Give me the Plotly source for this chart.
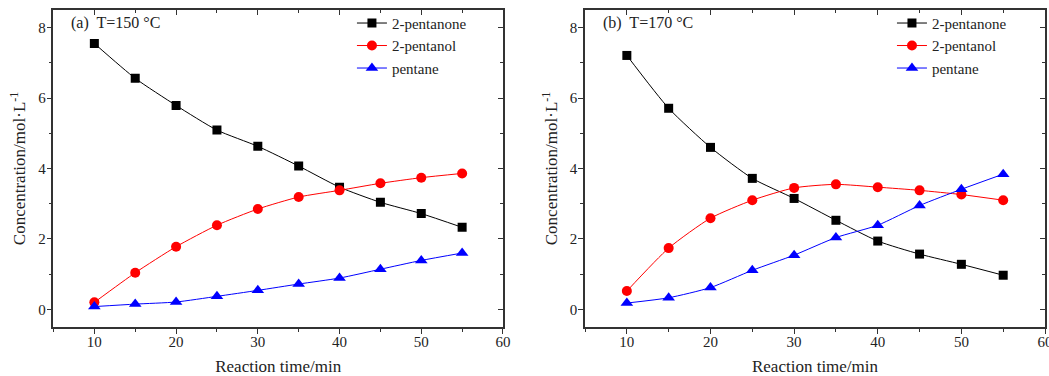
import plotly.graph_objects as go

time = [10, 15, 20, 25, 30, 35, 40, 45, 50, 55]
pentanone_150 = [7.55, 6.56, 5.79, 5.09, 4.63, 4.07, 3.47, 3.04, 2.72, 2.33]
pentanol_150 = [0.20, 1.04, 1.78, 2.39, 2.85, 3.19, 3.38, 3.58, 3.74, 3.86]
pentane_150 = [0.08, 0.15, 0.21, 0.37, 0.54, 0.72, 0.89, 1.14, 1.39, 1.60]
pentanone_170 = [7.21, 5.71, 4.60, 3.72, 3.15, 2.53, 1.94, 1.57, 1.28, 0.97]
pentanol_170 = [0.52, 1.74, 2.59, 3.10, 3.45, 3.55, 3.47, 3.38, 3.26, 3.10]
pentane_170 = [0.18, 0.33, 0.62, 1.11, 1.54, 2.04, 2.39, 2.95, 3.41, 3.84]
series_names = ["2-pentanone", "2-pentanol", "pentane"]
panel_labels = ["(a)  T=150 °C", "(b)  T=170 °C"]

colors = ["black", "red", "blue"]
symbols = ["square", "circle", "triangle-up"]
sizes = [9, 10, 11]
FONT = "Liberation Serif, Times New Roman, serif"
AX = "#333333"
TXT = "#222222"

fig = go.Figure()
panels = [
    ([pentanone_150, pentanol_150, pentane_150], "x", "y", "legend"),
    ([pentanone_170, pentanol_170, pentane_170], "x2", "y2", "legend2"),
]
for data, xa, ya, lg in panels:
    for name, vals, c, s, sz in zip(series_names, data, colors, symbols, sizes):
        fig.add_trace(go.Scatter(
            x=time, y=vals, name=name, mode="lines+markers",
            line=dict(color=c, width=1, shape="spline", smoothing=0.6),
            marker=dict(color=c, symbol=s, size=sz),
            xaxis=xa, yaxis=ya, legend=lg,
        ))

# dummy traces for mirrored inner-tick axes
for xa, ya in [("x3", "y3"), ("x4", "y4")]:
    fig.add_trace(go.Scatter(x=[None], y=[None], xaxis=xa, yaxis=ya,
                             showlegend=False, hoverinfo="skip"))

ydom = [0.1303, 0.9734]
xdoms = [[0.051, 0.4795], [0.5577, 0.9962]]

def xax(dom, anchor):
    return dict(domain=dom, anchor=anchor, range=[5, 60], dtick=10, tick0=0, automargin=False,
                ticks="outside", ticklen=5, tickwidth=1.3, tickcolor=AX,
                ticklabelstandoff=-5, ticklabeloverflow="allow",
                showline=True, linecolor=AX, linewidth=1.5, showgrid=False,
                zeroline=False,
                minor=dict(dtick=5, tick0=5, ticks="outside", ticklen=3, tickwidth=1.3, tickcolor=AX),
                tickfont=dict(family=FONT, size=15, color=TXT),
                title=dict(text="Reaction time/min", font=dict(family=FONT, size=17, color=TXT), standoff=12))

def yax(anchor):
    return dict(domain=ydom, anchor=anchor, range=[-0.5, 8.5], dtick=2, tick0=0, automargin=False,
                ticks="outside", ticklen=5, tickwidth=1.3, tickcolor=AX,
                ticklabelstandoff=-2,
                showline=True, linecolor=AX, linewidth=1.5, showgrid=False,
                zeroline=False,
                minor=dict(dtick=1, tick0=1, ticks="outside", ticklen=3, tickwidth=1.3, tickcolor=AX),
                tickfont=dict(family=FONT, size=15, color=TXT),
                title=dict(text="Concentration/mol·L<sup>-1</sup>", font=dict(family=FONT, size=17, color=TXT), standoff=8))

def xmirror(dom, overlay, anchor):
    return dict(domain=dom, overlaying=overlay, anchor=anchor, side="top", range=[5, 60], dtick=10, tick0=0,
                automargin=False,
                ticks="inside", ticklen=5, tickwidth=1.3, tickcolor=AX, showticklabels=False,
                showline=True, linecolor=AX, linewidth=1.5, showgrid=False, zeroline=False,
                minor=dict(dtick=5, tick0=5, ticks="inside", ticklen=3, tickwidth=1.3, tickcolor=AX))

def ymirror(overlay, anchor):
    return dict(domain=ydom, overlaying=overlay, anchor=anchor, side="right", range=[-0.5, 8.5], dtick=2, tick0=0,
                automargin=False,
                ticks="inside", ticklen=5, tickwidth=1.3, tickcolor=AX, showticklabels=False,
                showline=True, linecolor=AX, linewidth=1.5, showgrid=False, zeroline=False,
                minor=dict(dtick=1, tick0=1, ticks="inside", ticklen=3, tickwidth=1.3, tickcolor=AX))

legend_common = dict(font=dict(family=FONT, size=15, color=TXT), bgcolor="rgba(0,0,0,0)",
                     borderwidth=0, xanchor="left", yanchor="top", tracegroupgap=0, itemwidth=30)

fig.update_layout(
    width=1049, height=376, autosize=False,
    margin=dict(l=0, r=0, t=0, b=0, autoexpand=False),
    font=dict(family=FONT, color=TXT),
    paper_bgcolor="white", plot_bgcolor="white",
    xaxis=xax(xdoms[0], "y"), yaxis=yax("x"),
    xaxis2=xax(xdoms[1], "y2"), yaxis2=yax("x2"),
    xaxis3=xmirror(xdoms[0], "x", "y"), yaxis3=ymirror("y", "x"),
    xaxis4=xmirror(xdoms[1], "x2", "y2"), yaxis4=ymirror("y2", "x2"),
    legend=dict(x=0.3355, y=0.982, **legend_common),
    legend2=dict(x=0.8503, y=0.982, **legend_common),
    showlegend=True,
)

for lab, dom in zip(panel_labels, xdoms):
    fig.add_annotation(text=lab, xref="paper", yref="paper", x=dom[0] + 0.015, y=0.968,
                       xanchor="left", yanchor="top", showarrow=False,
                       font=dict(family=FONT, size=16, color=TXT))

fig.write_html(
    "out.html",
    config={"displayModeBar": False, "responsive": False},
    default_width="1049px", default_height="376px",
    post_script=(
        "document.documentElement.style.margin='0';document.documentElement.style.overflow='hidden';"
        "document.body.style.margin='0';document.body.style.padding='0';document.body.style.overflow='hidden';"
    ),
)
